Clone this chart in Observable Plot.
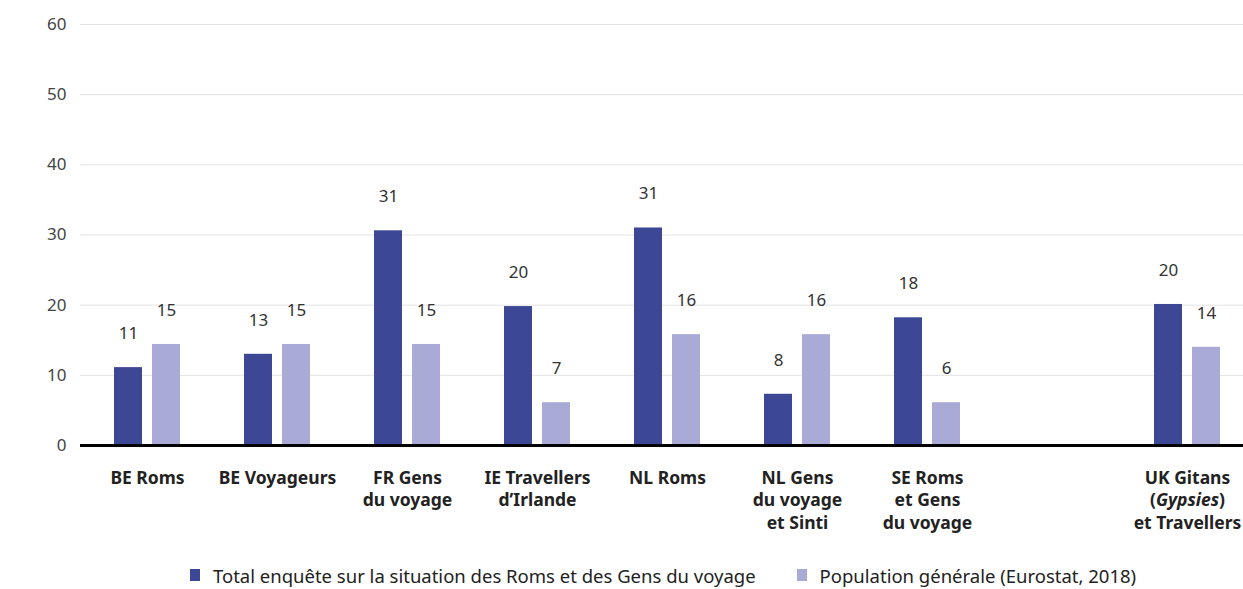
<!DOCTYPE html>
<html>
<head>
<meta charset="utf-8">
<script src="https://cdn.jsdelivr.net/npm/d3@7"></script>
<script src="https://cdn.jsdelivr.net/npm/@observablehq/plot@0.6"></script>
<style>
  body { margin: 0; background: #fff; font-family: "Noto Sans", "Open Sans", sans-serif; }
  #legend { display: flex; align-items: center; padding-left: 190px; height: 46px; font-size: 18.5px; color: #222; }
  #legend .item { display: flex; align-items: center; margin-right: 41px; }
  #legend .sw { width: 10px; height: 12px; margin-right: 13px; }
</style>
</head>
<body>
<div id="chart"></div>
<div id="legend"></div>
<script>
const categories = ["BE Roms", "BE Voyageurs", "FR Gens\ndu voyage", "IE Travellers\nd’Irlande", "NL Roms",
  "NL Gens\ndu voyage\net Sinti", "SE Roms\net Gens\ndu voyage", "", "UK Gitans\n(Gypsies)\net Travellers"];
const seriesNames = ["Total enquête sur la situation des Roms et des Gens du voyage", "Population générale (Eurostat, 2018)"];
const surveyValues = [11.1, 13.0, 30.6, 19.8, 31.0, 7.3, 18.2, null, 20.1];
const generalValues = [14.4, 14.4, 14.4, 6.1, 15.8, 15.8, 6.1, null, 14.0];
const surveyLabels = [11, 13, 31, 20, 31, 8, 18, null, 20];
const generalLabels = [15, 15, 15, 7, 16, 16, 6, null, 14];
const yTicks = [0, 10, 20, 30, 40, 50, 60];
const colors = ["#3c4896", "#aaaad6"];

const survey = categories.map((c, i) => ({cat: c, v: surveyValues[i], label: surveyLabels[i]})).filter(d => d.v != null);
const general = categories.map((c, i) => ({cat: c, v: generalValues[i], label: generalLabels[i]})).filter(d => d.v != null);

const chart = Plot.plot({
  width: 1243,
  height: 552,
  marginTop: 24,
  marginLeft: 80,
  marginRight: 0,
  marginBottom: 107,
  style: {fontFamily: "'Noto Sans', 'Open Sans', sans-serif", fontSize: "17px"},
  x: {domain: categories, range: [80, 1253], padding: 0, label: null},
  y: {domain: [0, 60], label: null},
  marks: [
    Plot.gridY(yTicks, {stroke: "#e3e3e3", strokeOpacity: 1}),
    Plot.axisY(yTicks, {tickSize: 0, tickPadding: 14, fontSize: 17, fill: "#444", label: null}),
    Plot.axisX({tickSize: 0, tickPadding: 22, fontSize: 17.5, fontWeight: "bold", fill: "#222", lineHeight: 1.3, label: null}),
    Plot.barY(survey, {x: "cat", y: "v", fill: colors[0], insetLeft: 32, insetRight: 70}),
    Plot.barY(general, {x: "cat", y: "v", fill: colors[1], insetLeft: 70, insetRight: 32}),
    Plot.text(survey, {x: "cat", y: "v", text: "label", dx: -19, dy: -34, fontSize: 17, fill: "#333"}),
    Plot.text(general, {x: "cat", y: "v", text: "label", dx: 19, dy: -34, fontSize: 17, fill: "#333"}),
    Plot.ruleY([0], {stroke: "#000", strokeWidth: 3})
  ]
});
document.getElementById("chart").appendChild(chart);

// italicize "Gypsies"
chart.querySelectorAll("tspan").forEach(t => {
  if (t.textContent === "(Gypsies)") {
    t.textContent = "(";
    const it = document.createElementNS("http://www.w3.org/2000/svg", "tspan");
    it.setAttribute("font-style", "italic");
    it.textContent = "Gypsies";
    t.appendChild(it);
    t.appendChild(document.createTextNode(")"));
  }
});

const legend = document.getElementById("legend");
seriesNames.forEach((n, i) => {
  const item = document.createElement("div");
  item.className = "item";
  const sw = document.createElement("div");
  sw.className = "sw";
  sw.style.background = colors[i];
  const lab = document.createElement("span");
  lab.textContent = n;
  item.appendChild(sw);
  item.appendChild(lab);
  legend.appendChild(item);
});
</script>
</body>
</html>
